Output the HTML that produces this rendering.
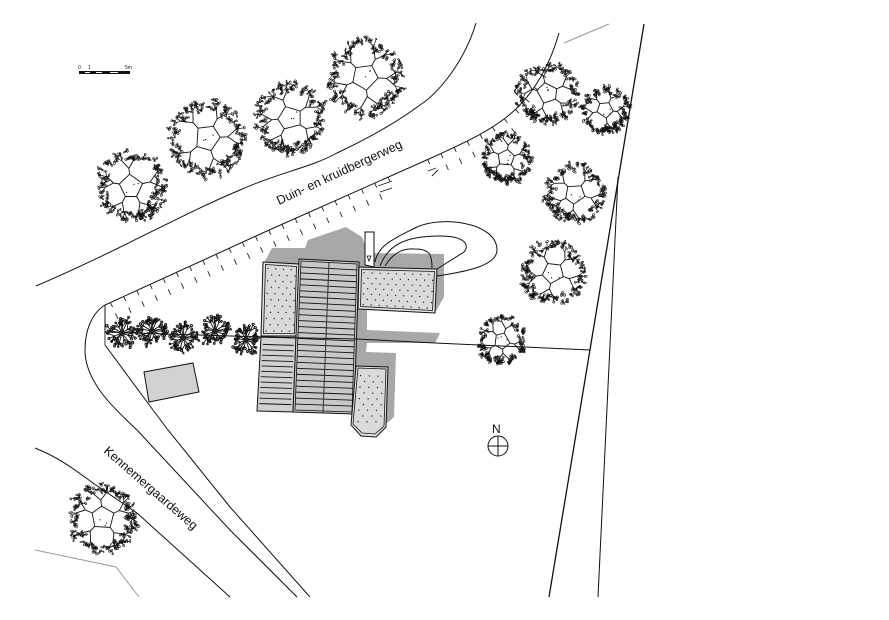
<!DOCTYPE html>
<html><head><meta charset="utf-8"><style>
html,body{margin:0;padding:0;background:#fff}
svg{display:block}
text{font-family:"Liberation Sans",sans-serif;fill:#111}
</style></head><body>
<svg id="s" xmlns="http://www.w3.org/2000/svg" width="889" height="620" viewBox="0 0 889 620">
<rect width="889" height="620" fill="#fff"/>
<g fill="none" stroke="#111" stroke-width="1">
<path d="M36,286 C120,250 180,215 240,190 C280,172 310,168 337,153 C375,135 400,120 420,105 C440,92 465,60 476,23"/>
<path id="road" d="M105,305 L267,231 L420,163 C460,145 495,130 518,107 C535,90 550,65 559,33"/>
<path d="M105,305 C92,313 85,330 85,350 C85,380 110,405 137,430 L230,530 L297,597"/>
<path d="M105,345 L153,410 L168,430 L230,507 L310,597"/>
<path d="M35,448 C60,458 75,470 93,483 L137,513 L230,597"/>
<path d="M105,305 V333"/>
<path d="M644,24 L549,597" stroke-width="1.3"/>
<path d="M618,177 L598,597"/>
<path d="M564,43 L609,24 M35,550 L116,567 L139,597" stroke="#999"/>
</g>
<path d="M105,333 V345" stroke="#999" stroke-width="2" fill="none"/>
<g id="ticks" stroke="#222" stroke-width="0.9" fill="none"></g>
<path fill="#a8a8a8" d="M264,263 L272,248 L305,248 L308,240 L346,227 L362,237 L368,253 L444,254 L444,297 L435,313 L367,310 L367,330 L440,333 L435,343 L367,343 L366,352 L396,353 L394,417 L386,424 L376,437 L351,425 L354,414 L257,411 Z"/>
<path fill="#d2d2d2" stroke="#111" stroke-width="1" d="M144,372 L193,363 L199,392 L149,402 Z"/>
<g id="bld"></g>
<g fill="none" stroke="#111" stroke-width="1">
<path d="M365,232 H374 L374,267 L365,265 Z" fill="#fff"/>
<path d="M367,256 H371 L369,261 Z" stroke-width="0.8"/>
<path d="M375,262 C378,245 395,238 415,228 C440,215 497,222 497,250 C497,268 455,273 437,276"/>
<path d="M380,266 C388,245 405,236 440,236 C465,236 470,245 464,252 L437,269"/>
<path d="M385,266 C392,255 400,248 415,249 C430,249 432,255 432,268"/>
<path d="M260,337 L357,339 L435,343 L590,350" stroke-width="1"/>
<path d="M105,332 L262,337"/>
</g>
<g id="trees"></g>
<text transform="translate(279,205) rotate(-25)" font-size="12.5">Duin- en kruidbergerweg</text>
<text transform="translate(103,452) rotate(41)" font-size="12.5">Kennemergaardeweg</text>
<text x="492" y="433" font-size="12">N</text>
<g fill="none" stroke="#111" stroke-width="1"><circle cx="498" cy="446" r="10"/><path d="M488,446 H508 M498,436 V456"/></g>
<rect x="79" y="71" width="51" height="3" fill="#111"/>
<path d="M85,72.5 H90 M96,72.5 H102 M110,72.5 H118" stroke="#fff" stroke-width="1"/>
<g font-size="5"><text x="78" y="69">0</text><text x="88" y="69">1</text><text x="125" y="69">5m</text></g>
</svg>
<script>
var NS="http://www.w3.org/2000/svg";
var seed=12345;function R(){seed=(seed*16807)%2147483647;return seed/2147483647;}
function el(p,n,a){var e=document.createElementNS(NS,n);for(var k in a)e.setAttribute(k,a[k]);p.appendChild(e);return e;}
var road=document.getElementById("road"),tk=document.getElementById("ticks");
(function(){var L=road.getTotalLength(),d="";
for(var s=6;s<L-45;s+=14.5){var a=road.getPointAtLength(s),b=road.getPointAtLength(s+1);
var dx=b.x-a.x,dy=b.y-a.y,nx=-dy,ny=dx;
if(a.x>395&&a.x<425)continue;
d+="M"+a.x+","+a.y+"L"+(a.x+nx*5)+","+(a.y+ny*5);
if(a.x<380||a.x>430&&a.y>118){d+="M"+(a.x+nx*12)+","+(a.y+ny*12)+"L"+(a.x+nx*18)+","+(a.y+ny*18);}
}
d+="M378,186 L392,181 M380,192 L392,188 M428,171 L436,168 M432,176 L438,170";
el(tk,"path",{d:d});})();
var bg=document.getElementById("bld");
function lerp(p,q,t){return [p[0]+(q[0]-p[0])*t,p[1]+(q[1]-p[1])*t];}
function poly(pts,fill,sw){return el(bg,"polygon",{points:pts.map(function(p){return p.join(",")}).join(" "),fill:fill,stroke:"#111","stroke-width":sw||1});}
function inset(a,b,c,d,t){var cx=(a[0]+b[0]+c[0]+d[0])/4,cy=(a[1]+b[1]+c[1]+d[1])/4;
return [a,b,c,d].map(function(p){var dx=p[0]-cx,dy=p[1]-cy;return [p[0]-Math.sign(dx)*t,p[1]-Math.sign(dy)*t];});}
function dots(a,b,c,d,nx,ny){for(var j=0;j<ny;j++){for(var i=0;i<nx;i++){
var u=(i+.5+(j%2?.25:-.25))/nx,v=(j+.5)/ny;var p=lerp(lerp(a,b,u),lerp(d,c,u),v);
el(bg,"rect",{x:p[0],y:p[1],width:1.2,height:1.2,fill:"#222"});}}}
function hatch(a,b,c,d,n){var s="";for(var j=1;j<n;j++){var v=j/n;var p=lerp(a,d,v),q=lerp(b,c,v);s+="M"+p+"L"+q;}
el(bg,"path",{d:s,stroke:"#111","stroke-width":0.9,fill:"none"});}
function block(a,b,c,d,t){poly([a,b,c,d],"#e2e2e2",1);var i=inset(a,b,c,d,t);poly(i,"#dadada",0.8);return i;}
var i,j;
i=block([263,262],[299,264],[297,336],[261,336],2.5);dots(i[0],i[1],i[2],i[3],4,11);
i=[[261,337],[296,338],[293,412],[257,411]];poly(i,"#d0d0d0",1);
j=inset(i[0],i[1],i[2],i[3],2);hatch(j[0],j[1],j[2],j[3],13);
i=[[299,259],[359,262],[354,414],[293,412]];poly(i,"#c8c8c8",1);
j=inset(i[0],i[1],i[2],i[3],2);poly(j,"#c8c8c8",0.8);hatch(j[0],j[1],j[2],j[3],25);
el(bg,"path",{d:"M329,262 L323,413",stroke:"#333",fill:"none","stroke-width":1});
i=block([359,267],[437,269],[435,313],[358,309],2.5);dots(i[0],i[1],i[2],i[3],9,7);
poly([[356,366],[388,367],[386,427],[376,437],[361,436],[351,425]],"#e2e2e2",1);
poly([[358,368],[386,369],[384,426],[375,434],[362,433],[353,424]],"#dadada",0.8);
dots([358,372],[384,373],[382,424],[355,424],3,9);
var tg=document.getElementById("trees");
function tree(cx,cy,r,rot,dense){
var main="",twig="",blobs="",n=5,pts=[],cr=r*0.33;
for(var i=0;i<n;i++){var a=rot+i*2*Math.PI/n+(R()-.5)*.3;pts.push([cx+Math.cos(a)*cr,cy+Math.sin(a)*cr,a]);}
main+="M"+pts.map(function(p){return p[0].toFixed(1)+","+p[1].toFixed(1)}).join("L")+"Z";
function leaf(x,y){
var rx=.8+R()*1.1,ry=.5+R()*.6;
blobs+='<ellipse cx="'+x.toFixed(1)+'" cy="'+y.toFixed(1)+'" rx="'+rx.toFixed(1)+'" ry="'+ry.toFixed(1)+'" transform="rotate('+Math.floor(R()*180)+' '+x.toFixed(1)+' '+y.toFixed(1)+')"/>';}
function seg(x,y,a,l,isMain){var x2=x+Math.cos(a)*l,y2=y+Math.sin(a)*l,s="M"+x.toFixed(1)+","+y.toFixed(1)+"L"+x2.toFixed(1)+","+y2.toFixed(1);
if(isMain)main+=s;else twig+=s;return [x2,y2];}
pts.forEach(function(p){
var m=seg(p[0],p[1],p[2],r*(.16+R()*.06),true);
[-.7,.7].forEach(function(off){
var a=p[2]+off+(R()-.5)*.25;var q=seg(m[0],m[1],a,r*(.24+R()*.08),true);
for(var t=0;t<2;t++){var b=a+(t-.5)*.9+(R()-.5)*.3;
var w=seg(q[0],q[1],b,r*(.12+R()*.1),false);leaf(w[0],w[1]);}
});
});
function cluster(a,d){var x=cx+Math.cos(a)*d,y=cy+Math.sin(a)*d;
for(var u=0;u<2;u++){var b=R()*6.283,l=r*(.04+R()*.07);
var e=seg(x,y,b,l,false);leaf(e[0],e[1]);}
leaf(x,y);}
var cnt=Math.round(r*1.7);
for(var i=0;i<cnt;i++){cluster(i*2.39996+R()*.2,r*(.7+R()*.28));}
var da=rot+2.2;
for(var i=0;i<dense*.4;i++){cluster(da+(R()-.5)*1.5,r*(.68+R()*.3));}
var g=el(tg,"g",{fill:"none",stroke:"#111"});
g.innerHTML='<path stroke-width="0.9" d="'+main+'"/><path stroke-width="0.7" d="'+twig+'"/><g stroke-width="0.6">'+blobs+'</g>';
for(var i=0;i<3;i++){el(g,"rect",{x:cx+(R()-.5)*r*.4,y:cy+(R()-.5)*r*.4,width:1.2,height:1,fill:"#111",stroke:"none"});}
}
function dark(cx,cy,r){
var path="",blobs="";
for(var i=0;i<16;i++){var a=i*2.39996,l=r*(.35+R()*.35);
var x=cx+Math.cos(a)*l,y=cy+Math.sin(a)*l;
path+="M"+cx+","+cy+"L"+x.toFixed(1)+","+y.toFixed(1);
for(var q=-1;q<2;q++){var b=a+q*.6+(R()-.5)*.5,m=r*(.18+R()*.32),xx=x+Math.cos(b)*m,yy=y+Math.sin(b)*m;
path+="M"+x.toFixed(1)+","+y.toFixed(1)+"L"+xx.toFixed(1)+","+yy.toFixed(1);
blobs+='<circle cx="'+xx.toFixed(1)+'" cy="'+yy.toFixed(1)+'" r="'+(0.7+R()*.6).toFixed(1)+'"/>';}
}
var g=el(tg,"g",{fill:"none",stroke:"#111","stroke-width":0.9});
g.innerHTML='<path d="'+path+'"/>'+blobs;
el(g,"circle",{cx:cx,cy:cy,r:r*.2,fill:"#222",stroke:"none"});
}
[[131,186,36,-1.57,28],[207,138,40,-1.2,18],[290,118,37,-.6,30],[365,77,40,-1.1,20],
[547,93,32,-.5,30],[605,110,25,-1.0,28],[506,158,26,-.2,34],[575,194,31,.3,24],
[553,273,33,.4,22],[502,341,25,.1,24],[103,518,36,-1.57,24]].forEach(function(t){
tree(t[0],t[1],t[2],t[3],t[4]);});
[[122,333,15],[152,331,15],[183,338,15],[215,331,15],[246,340,15]].forEach(function(t){dark(t[0],t[1],t[2]);});
</script>
</body></html>
